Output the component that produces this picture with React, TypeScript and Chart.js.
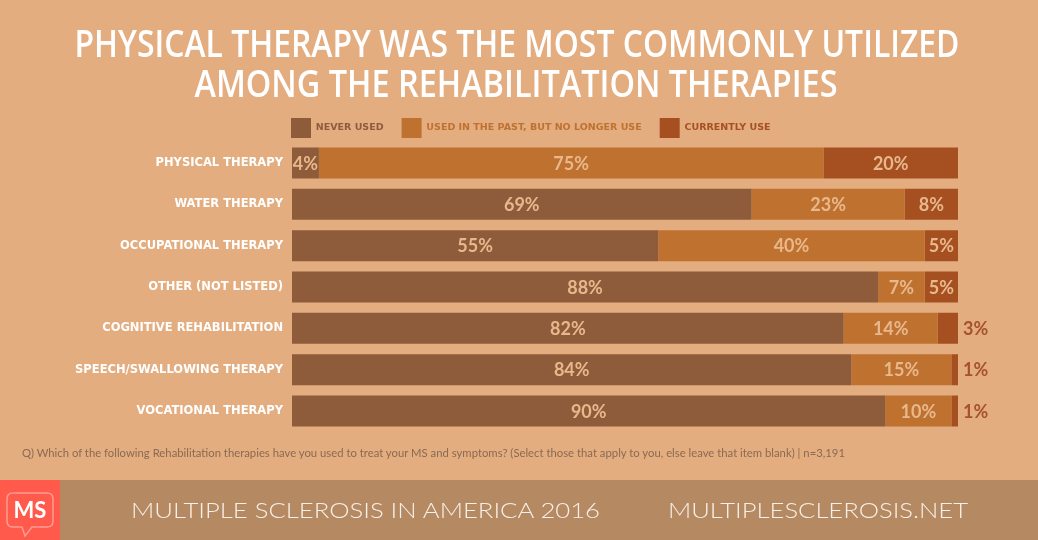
import React, { useEffect, useRef } from "react";
import { Chart, registerables } from "chart.js";

Chart.register(...registerables);

// ---------- data ----------
const TITLE_LINES = [
  "PHYSICAL THERAPY WAS THE MOST COMMONLY UTILIZED",
  "AMONG THE REHABILITATION THERAPIES",
];
const CATEGORIES = [
  "PHYSICAL THERAPY",
  "WATER THERAPY",
  "OCCUPATIONAL THERAPY",
  "OTHER (NOT LISTED)",
  "COGNITIVE REHABILITATION",
  "SPEECH/SWALLOWING THERAPY",
  "VOCATIONAL THERAPY",
];
const SERIES_NAMES = [
  "NEVER USED",
  "USED IN THE PAST, BUT NO LONGER USE",
  "CURRENTLY USE",
];
const NEVER_USED = [4, 69, 55, 88, 82, 84, 90];
const USED_IN_PAST = [75, 23, 40, 7, 14, 15, 10];
const CURRENTLY_USE = [20, 8, 5, 5, 3, 1, 1];
const QUESTION =
  "Q) Which of the following Rehabilitation therapies have you used to treat your MS and symptoms? (Select those that apply to you, else leave that item blank) | n=3,191";
const FOOTER_LEFT = "MULTIPLE SCLEROSIS IN AMERICA 2016";
const FOOTER_RIGHT = "MULTIPLESCLEROSIS.NET";

// ---------- style ----------
const BG = "#E3AD80";
const SERIES_COLORS = ["#8F5C3B", "#BF7230", "#A65022"];
const INSIDE_LABEL = "#E8B88C";
const OUTSIDE_LABEL = "#A6522A";

const SERIES = [NEVER_USED, USED_IN_PAST, CURRENTLY_USE];

const titlePlugin = {
  id: "titleLines",
  afterDraw(chart: any) {
    const ctx = chart.ctx;
    ctx.save();
    ctx.fillStyle = "#FFFFFF";
    ctx.textAlign = "center";
    ctx.textBaseline = "alphabetic";
    ctx.font = '600 37px "Open Sans"';
    ctx.fillText(TITLE_LINES[0], 517, 57, 885);
    ctx.fillText(TITLE_LINES[1], 516, 97, 643);
    ctx.restore();
  },
};

const legendShiftPlugin = {
  id: "legendShift",
  afterLayout(chart: any) {
    if (chart.legend) {
      chart.legend.left = 273;
    }
  },
};

const valueLabelPlugin = {
  id: "valueLabels",
  afterDatasetsDraw(chart: any) {
    const ctx = chart.ctx;
    ctx.save();
    ctx.font = 'bold 18px "Lato"';
    ctx.textBaseline = "middle";
    const last = chart.data.datasets.length - 1;
    chart.data.datasets.forEach((_: any, di: number) => {
      const meta = chart.getDatasetMeta(di);
      meta.data.forEach((bar: any, i: number) => {
        const text = SERIES[di][i] + "%";
        const { x, base, y } = bar.getProps(["x", "base", "y"], true);
        const w = Math.abs(x - base);
        const tw = ctx.measureText(text).width;
        if (di === last && w < tw) {
          ctx.fillStyle = OUTSIDE_LABEL;
          ctx.textAlign = "left";
          ctx.fillText(text, Math.max(x, base) + 5, y + 1);
        } else {
          ctx.fillStyle = INSIDE_LABEL;
          ctx.textAlign = "center";
          ctx.fillText(text, (x + base) / 2, y + 1);
        }
      });
    });
    ctx.restore();
  },
};

export default function App() {
  const canvasRef = useRef<HTMLCanvasElement | null>(null);

  useEffect(() => {
    if (!canvasRef.current) return;
    const totals = CATEGORIES.map((_, i) =>
      SERIES.reduce((s, arr) => s + arr[i], 0)
    );
    const chart = new Chart(canvasRef.current, {
      type: "bar",
      data: {
        labels: CATEGORIES,
        datasets: SERIES.map((arr, k) => ({
          label: SERIES_NAMES[k],
          data: arr.map((v, i) => (v / totals[i]) * 100),
          backgroundColor: SERIES_COLORS[k],
          borderWidth: 0,
          categoryPercentage: 0.75,
          barPercentage: 1,
        })),
      },
      options: {
        responsive: false,
        animation: false,
        indexAxis: "y",
        layout: { padding: { top: 100, bottom: 48.3, left: 0, right: 80 } },
        scales: {
          x: { stacked: true, min: 0, max: 100, display: false },
          y: {
            stacked: true,
            grid: { display: false, drawTicks: false },
            border: { display: false },
            ticks: {
              color: "#FFFFFF",
              padding: 9,
              autoSkip: false,
              font: { family: "DejaVu Sans", weight: "bold", size: 11.5 },
            },
            afterFit: (scale: any) => {
              scale.width = 292;
            },
          },
        },
        plugins: {
          title: { display: false },
          tooltip: { enabled: false },
          legend: {
            position: "top",
            align: "start",
            maxHeight: 42.3,
            labels: {
              boxWidth: 20,
              boxHeight: 20,
              padding: 18,
              font: { family: "DejaVu Sans", weight: "bold", size: 9.5 },
              generateLabels: (c: any) =>
                Chart.defaults.plugins.legend.labels
                  .generateLabels(c)
                  .map((item: any, i: number) => ({
                    ...item,
                    fontColor: SERIES_COLORS[i],
                    lineWidth: 0,
                  })),
            },
          },
        },
      } as any,
      plugins: [titlePlugin, legendShiftPlugin, valueLabelPlugin],
    });
    return () => chart.destroy();
  }, []);

  return (
    <div
      style={{
        position: "fixed",
        left: 0,
        top: 0,
        width: 1038,
        height: 540,
        background: BG,
        overflow: "hidden",
      }}
    >
      <canvas
        ref={canvasRef}
        width={1038}
        height={480}
        style={{ position: "absolute", left: 0, top: 0, width: 1038, height: 480 }}
      />
      <svg
        width={1038}
        height={540}
        style={{ position: "absolute", left: 0, top: 0, pointerEvents: "none" }}
      >
        <text
          x={22}
          y={457}
          textLength={823}
          lengthAdjust="spacingAndGlyphs"
          fontFamily="Lato"
          fontSize={10.5}
          fill="#8A6A52"
        >
          {QUESTION}
        </text>
        <rect x={0} y={480} width={1038} height={60} fill="#B58A63" />
        <rect x={0} y={480} width={60} height={60} fill="#FF5A4C" />
        <path
          d="M13 493 H47 Q53 493 53 499 V521 Q53 527 47 527 H32 L25 536 L22 527 H13 Q7 527 7 521 V499 Q7 493 13 493 Z"
          fill="none"
          stroke="#FF9C90"
          strokeWidth={1.5}
        />
        <text
          x={30}
          y={518}
          textAnchor="middle"
          fontFamily="Lato"
          fontWeight="bold"
          fontSize={22}
          fill="#FFFFFF"
        >
          MS
        </text>
        <text
          x={131}
          y={518}
          textLength={469}
          lengthAdjust="spacingAndGlyphs"
          fontFamily="Lato"
          fontWeight={300}
          fontSize={22}
          fill="#F7EFE8"
        >
          {FOOTER_LEFT}
        </text>
        <text
          x={668}
          y={518}
          textLength={300}
          lengthAdjust="spacingAndGlyphs"
          fontFamily="Lato"
          fontWeight={300}
          fontSize={22}
          fill="#F7EFE8"
        >
          {FOOTER_RIGHT}
        </text>
      </svg>
    </div>
  );
}
